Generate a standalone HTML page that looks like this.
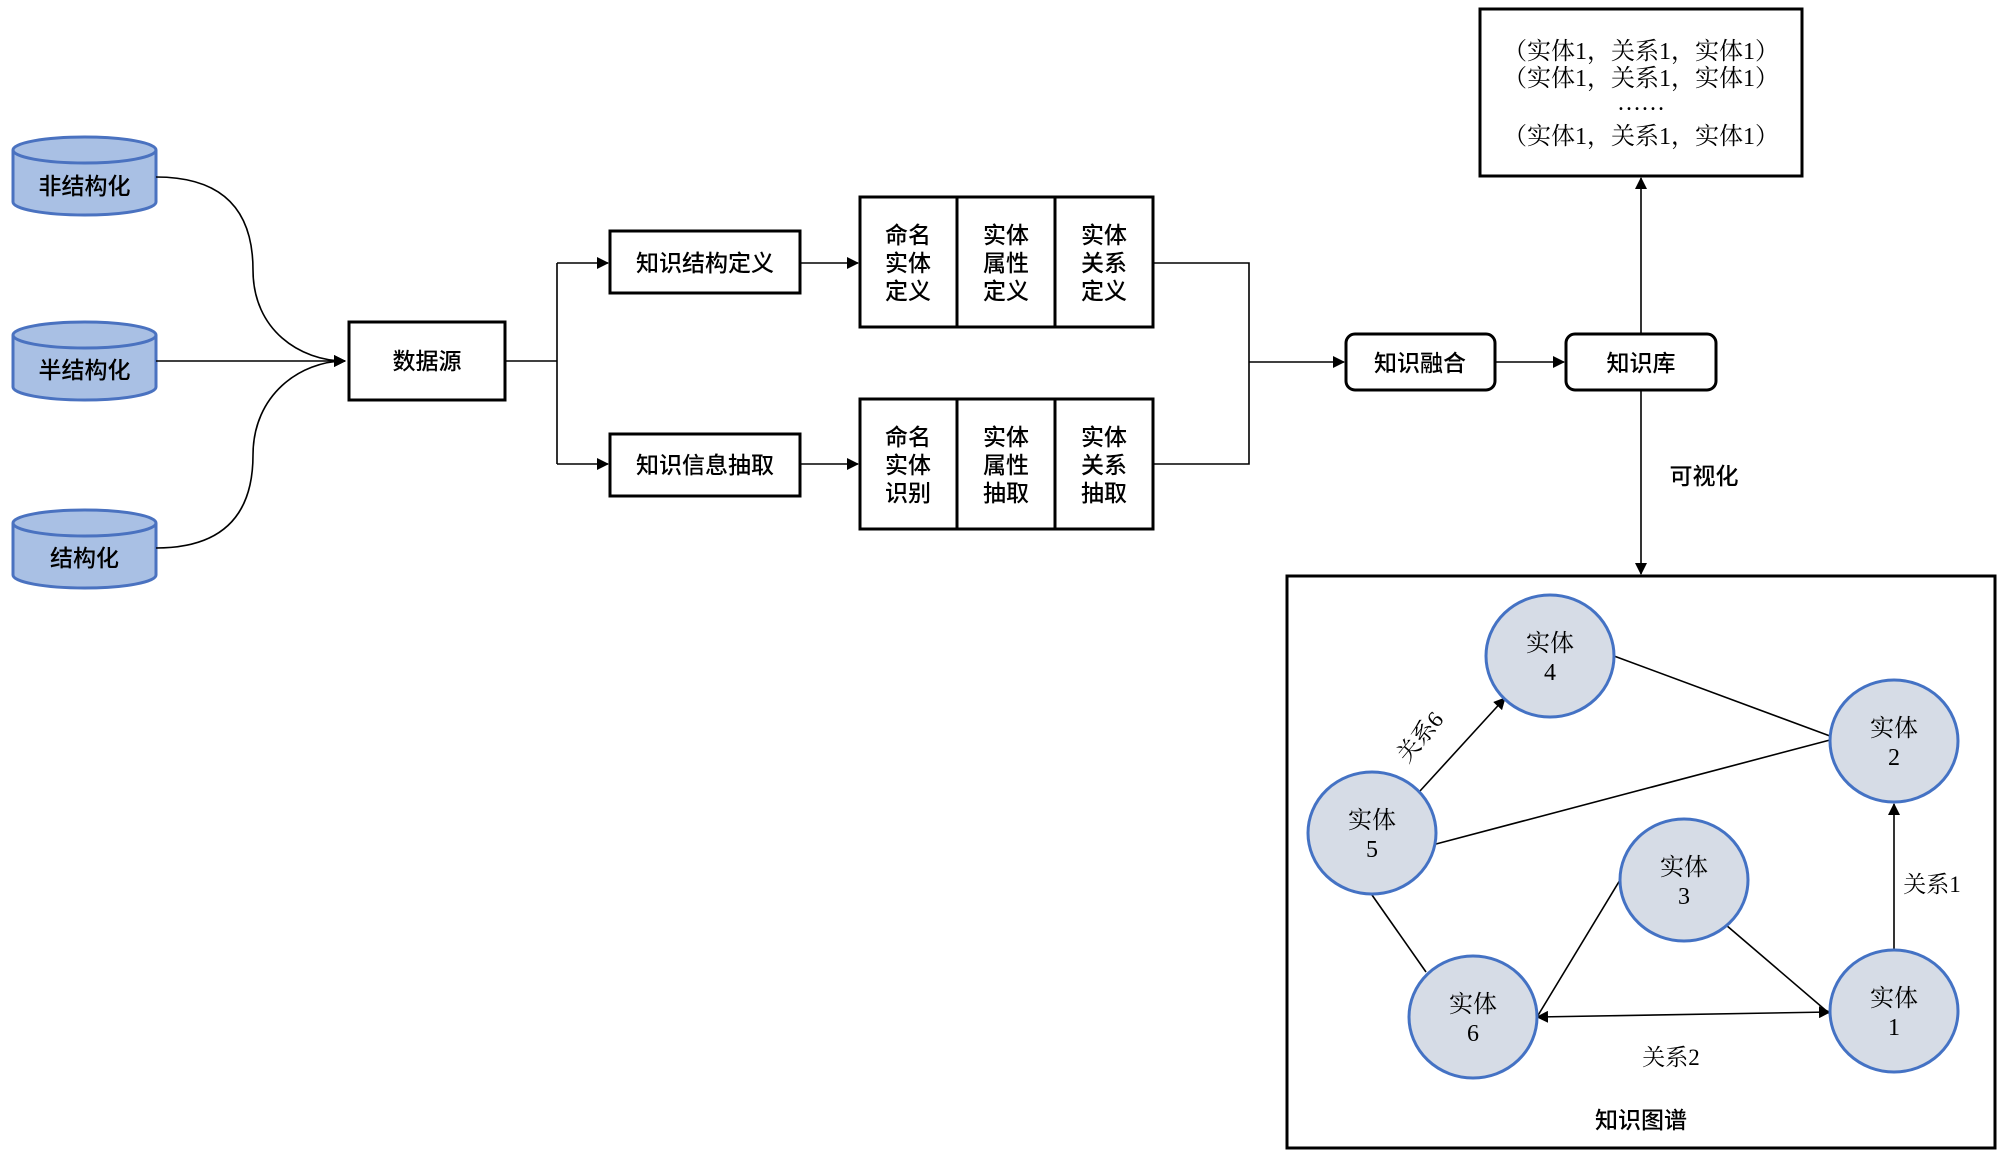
<!DOCTYPE html>
<html><head><meta charset="utf-8"><style>
html,body{margin:0;padding:0;background:#fff;}
svg{display:block;}
text{font-family:"Liberation Serif","Noto Serif CJK SC",serif;font-size:23px;fill:#000;}
.s{font-family:"Liberation Sans","Noto Sans CJK SC",sans-serif;font-weight:500;}
.t{font-size:24px;}
</style></head><body>
<svg width="2000" height="1162" viewBox="0 0 2000 1162" xmlns="http://www.w3.org/2000/svg">
<defs>
<marker id="a" markerWidth="12" markerHeight="12" refX="11" refY="6" orient="auto" markerUnits="userSpaceOnUse">
<path d="M0,0 L12,6 L0,12 z" fill="#000"/></marker>
<marker id="b" markerWidth="12" markerHeight="12" refX="1" refY="6" orient="auto" markerUnits="userSpaceOnUse">
<path d="M12,0 L0,6 L12,12 z" fill="#000"/></marker>
</defs>
<g fill="#a9c0e4" stroke="#4a72c0" stroke-width="3">
<path d="M13,150 L13,202 A71.5,13 0 0 0 156,202 L156,150"/><ellipse cx="84.5" cy="150" rx="71.5" ry="13"/>
<path d="M13,335 L13,387 A71.5,13 0 0 0 156,387 L156,335"/><ellipse cx="84.5" cy="335" rx="71.5" ry="13"/>
<path d="M13,523 L13,575 A71.5,13 0 0 0 156,575 L156,523"/><ellipse cx="84.5" cy="523" rx="71.5" ry="13"/>
</g>
<text class="s" x="84.5" y="194" text-anchor="middle">非结构化</text>
<text class="s" x="84.5" y="378" text-anchor="middle">半结构化</text>
<text class="s" x="84.5" y="566" text-anchor="middle">结构化</text>
<g fill="none" stroke="#000" stroke-width="1.6">
<path d="M156,177 C240,177 253,230 253,270 C253,330 300,361 345,361" marker-end="url(#a)"/>
<path d="M156,361 L345,361" marker-end="url(#a)"/>
<path d="M156,548 C240,548 253,495 253,455 C253,395 300,361 345,361" marker-end="url(#a)"/>
<path d="M505,361 L557,361 M557,263 L557,464"/>
<path d="M557,263 L608,263" marker-end="url(#a)"/>
<path d="M557,464 L608,464" marker-end="url(#a)"/>
<path d="M800,263 L858,263" marker-end="url(#a)"/>
<path d="M800,464 L858,464" marker-end="url(#a)"/>
<path d="M1153,263 L1249,263 L1249,464 L1153,464 M1249,362 L1344,362" marker-end="url(#a)"/>
<path d="M1495,362 L1564,362" marker-end="url(#a)"/>
<path d="M1641,334 L1641,178" marker-end="url(#a)"/>
<path d="M1641,390 L1641,574" marker-end="url(#a)"/>
</g>
<g fill="#fff" stroke="#000" stroke-width="3">
<rect x="349" y="322" width="156" height="78"/>
<rect x="610" y="231" width="190" height="62"/>
<rect x="610" y="434" width="190" height="62"/>
<rect x="860" y="197" width="293" height="130"/>
<rect x="860" y="399" width="293" height="130"/>
<rect x="1346" y="334" width="149" height="56" rx="9"/>
<rect x="1566" y="334" width="150" height="56" rx="9"/>
<rect x="1480" y="9" width="322" height="167"/>
<rect x="1287" y="576" width="708" height="572"/>
<path d="M957,197 V327 M1055,197 V327 M957,399 V529 M1055,399 V529"/>
</g>
<text class="s" x="427" y="369" text-anchor="middle">数据源</text>
<text class="s" x="705" y="271" text-anchor="middle">知识结构定义</text>
<text class="s" x="705" y="473" text-anchor="middle">知识信息抽取</text>
<g text-anchor="middle">
<text class="s" x="908" y="243">命名</text><text class="s" x="908" y="271">实体</text><text class="s" x="908" y="299">定义</text>
<text class="s" x="1006" y="243">实体</text><text class="s" x="1006" y="271">属性</text><text class="s" x="1006" y="299">定义</text>
<text class="s" x="1104" y="243">实体</text><text class="s" x="1104" y="271">关系</text><text class="s" x="1104" y="299">定义</text>
<text class="s" x="908" y="445">命名</text><text class="s" x="908" y="473">实体</text><text class="s" x="908" y="501">识别</text>
<text class="s" x="1006" y="445">实体</text><text class="s" x="1006" y="473">属性</text><text class="s" x="1006" y="501">抽取</text>
<text class="s" x="1104" y="445">实体</text><text class="s" x="1104" y="473">关系</text><text class="s" x="1104" y="501">抽取</text>
</g>
<text class="s" x="1420" y="371" text-anchor="middle">知识融合</text>
<text class="s" x="1641" y="371" text-anchor="middle">知识库</text>
<text class="s" x="1704" y="484" text-anchor="middle">可视化</text>
<g text-anchor="middle">
<text class="t" x="1641" y="59">（实体1，关系1，实体1）</text>
<text class="t" x="1641" y="86">（实体1，关系1，实体1）</text>
<text class="t" x="1641" y="110">……</text>
<text class="t" x="1641" y="144">（实体1，关系1，实体1）</text>
</g>
<g fill="none" stroke="#000" stroke-width="1.6">
<path d="M1614,656 L1830,736"/>
<path d="M1436,844 L1830,740"/>
<path d="M1420,791 L1505,698" marker-end="url(#a)"/>
<path d="M1372,895 L1426,972"/>
<path d="M1620,880 L1537,1017"/>
<path d="M1726,925 L1830,1014"/>
<path d="M1537,1017 L1830,1012" marker-start="url(#b)" marker-end="url(#a)"/>
<path d="M1894,950 L1894,804" marker-end="url(#a)"/>
</g>
<g fill="#d6dce6" stroke="#4472c4" stroke-width="3">
<ellipse cx="1550" cy="656" rx="64" ry="61"/>
<ellipse cx="1894" cy="741" rx="64" ry="61"/>
<ellipse cx="1372" cy="833" rx="64" ry="61"/>
<ellipse cx="1684" cy="880" rx="64" ry="61"/>
<ellipse cx="1473" cy="1017" rx="64" ry="61"/>
<ellipse cx="1894" cy="1011" rx="64" ry="61"/>
</g>
<g text-anchor="middle">
<text class="t" x="1550" y="651">实体</text><text class="t" x="1550" y="680">4</text>
<text class="t" x="1894" y="736">实体</text><text class="t" x="1894" y="765">2</text>
<text class="t" x="1372" y="828">实体</text><text class="t" x="1372" y="857">5</text>
<text class="t" x="1684" y="875">实体</text><text class="t" x="1684" y="904">3</text>
<text class="t" x="1473" y="1012">实体</text><text class="t" x="1473" y="1041">6</text>
<text class="t" x="1894" y="1006">实体</text><text class="t" x="1894" y="1035">1</text>
<text x="1932" y="892">关系1</text>
<text x="1671" y="1065">关系2</text>
<text class="s" x="1641" y="1128">知识图谱</text>
<text transform="translate(1426,742) rotate(-50)">关系6</text>
</g>
</svg>
</body></html>
